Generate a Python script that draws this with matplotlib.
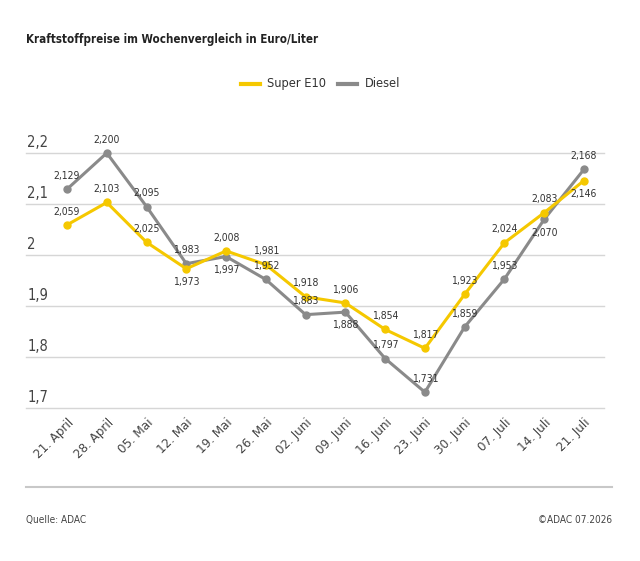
import matplotlib.pyplot as plt
import numpy as np

plt.rcParams['font.family'] = ['DejaVu Sans']
plt.rcParams['font.stretch'] = 'condensed'

# Daten
wochen = ['21. April', '28. April', '05. Mai', '12. Mai', '19. Mai', '26. Mai', '02. Juni',
          '09. Juni', '16. Juni', '23. Juni', '30. Juni', '07. Juli', '14. Juli', '21. Juli']
super_e10 = [2.059, 2.103, 2.025, 1.973, 2.008, 1.981, 1.918, 1.906, 1.854, 1.817, 1.923, 2.024, 2.083, 2.146]
diesel = [2.129, 2.200, 2.095, 1.983, 1.997, 1.952, 1.883, 1.888, 1.797, 1.731, 1.859, 1.953, 2.070, 2.168]
# Beschriftung oben (1) oder unten (-1)
e10_pos = [1, 1, 1, -1, 1, 1, 1, 1, 1, 1, 1, 1, 1, -1]
diesel_pos = [1, 1, 1, 1, -1, 1, 1, -1, 1, 1, 1, 1, -1, 1]
y_ticks = [1.7, 1.8, 1.9, 2.0, 2.1, 2.2]

gelb = '#f5c800'
grau = '#8a8a8a'

fig = plt.figure(figsize=(6.4, 5.61), dpi=100)
W, H = 640, 561
ax = fig.add_axes([26 / W, 1 - 408 / H, 578 / W, 255 / H])

x = np.arange(len(wochen))
step = (584 - 67) / 13
ax.set_xlim(-(67 - 26) / step, 13 + (604 - 584) / step)
ax.set_ylim(1.7, 2.2)

for v in y_ticks:
    ax.axhline(v, color='#d6d6d6', lw=1.0, zorder=0, clip_on=False)
    lab = ('%g' % v).replace('.', ',')
    ax.text(0.002, v + 0.006, lab, transform=ax.get_yaxis_transform(),
            ha='left', va='bottom', fontsize=10.5, color='#444444')

ax.plot(x, diesel, color=grau, lw=2.2, marker='o', ms=5, clip_on=False, zorder=3)
ax.plot(x, super_e10, color=gelb, lw=2.2, marker='o', ms=5, clip_on=False, zorder=4)

def beschriften(werte, pos):
    for i, (v, p) in enumerate(zip(werte, pos)):
        txt = ('%.3f' % v).replace('.', ',')
        ax.annotate(txt, (i, v), xytext=(0, 6 * p), textcoords='offset points',
                    ha='center', va='bottom' if p > 0 else 'top',
                    fontsize=7.5, color='#333333', zorder=5)

beschriften(super_e10, e10_pos)
beschriften(diesel, diesel_pos)

ax.set_xticks(x)
ax.set_xticklabels(wochen, rotation=45, ha='right', va='top', rotation_mode='anchor',
                   fontsize=9.5, color='#444444')
ax.tick_params(axis='x', length=0, pad=6)
ax.set_yticks([])
for s in ax.spines.values():
    s.set_visible(False)

# Titel, Legende, Fuss
fig.text(26 / W, 1 - 39 / H, 'Kraftstoffpreise im Wochenvergleich in Euro/Liter',
         fontsize=8.3, fontweight='bold', va='center', color='#222222')
fig.lines.append(plt.Line2D([241 / W, 260 / W], [1 - 84 / H] * 2, color=gelb, lw=3,
                            transform=fig.transFigure))
fig.text(267 / W, 1 - 84 / H, 'Super E10', fontsize=9.2, va='center', color='#333333')
fig.lines.append(plt.Line2D([338 / W, 357 / W], [1 - 84 / H] * 2, color=grau, lw=3,
                            transform=fig.transFigure))
fig.text(365 / W, 1 - 84 / H, 'Diesel', fontsize=9.2, va='center', color='#333333')

fig.lines.append(plt.Line2D([26 / W, 612 / W], [1 - 487 / H] * 2, color='#c8c8c8', lw=1.5,
                            transform=fig.transFigure))
fig.text(26 / W, 1 - 520 / H, 'Quelle: ADAC', fontsize=7.2, va='center', color='#444444')
fig.text(612 / W, 1 - 520 / H, '©ADAC 07.2026', fontsize=7.2, va='center', ha='right',
         color='#444444')

fig.savefig('out.png', dpi=100)
